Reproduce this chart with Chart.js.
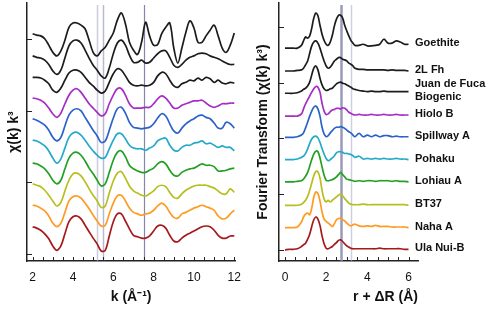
<!DOCTYPE html>
<html>
<head>
<meta charset="utf-8">
<script src="https://cdn.jsdelivr.net/npm/chart.js@4.4.1/dist/chart.umd.min.js"></script>
<style>
  body { margin: 0; background: #fff; }
  #wrap { position: relative; width: 490px; height: 309px; }
  #exafs { position: absolute; left: 0; top: 0; }
  #ft { position: absolute; left: 250px; top: 0; }
</style>
</head>
<body>
<div id="wrap">
  <canvas id="exafs" width="250" height="309"></canvas>
  <canvas id="ft" width="240" height="309"></canvas>
</div>
<script>
// samples, top to bottom
const sampleNames = ['Goethite', '2L Fh', 'Juan de Fuca Biogenic', 'Hiolo B', 'Spillway A',
                     'Pohaku', 'Lohiau A', 'BT37', 'Naha A', 'Ula Nui-B'];
const labelLines = [['Goethite'], ['2L Fh'], ['Juan de Fuca', 'Biogenic'], ['Hiolo B'], ['Spillway A'],
                    ['Pohaku'], ['Lohiau A'], ['BT37'], ['Naha A'], ['Ula Nui-B']];
const sampleColors = ['#1c1c1c', '#1c1c1c', '#1c1c1c', '#a52cc4', '#2b62c9',
                      '#25a9c9', '#23a023', '#b7bf1f', '#ff9b22', '#a5191c'];

// k space (Å-1)
const kValues = [2.0,2.2,2.4,2.6,2.8,3.0,3.2,3.4,3.6,3.8,4.0,4.2,4.4,4.6,4.8,5.0,5.2,5.4,5.6,5.8,
                 6.0,6.2,6.4,6.6,6.8,7.0,7.2,7.4,7.6,7.8,8.0,8.2,8.4,8.6,8.8,9.0,9.2,9.4,9.6,9.8,
                 10.0,10.2,10.4,10.6,10.8,11.0,11.2,11.4,11.6,11.8,12.0];
const kTicks = [2, 4, 6, 8, 10, 12];
const kMarkers = [5.2, 5.5, 7.5];
const chiOffsets = [31, 28, 25, 22, 19, 16, 13, 10, 7, 4];
const chiTicks = [1, 11, 21, 31];

const chiGoethite = [0.8,0.6,0.5,0.1,-0.8,-1.8,-2.3,-1.6,-0.1,1.7,2.3,2.3,2.0,1.5,-0.1,-1.8,-2.3,-1.6,-1.1,-0.1,
                     0.9,2.7,3.7,2.2,-0.4,-1.5,-2.1,-0.4,2.4,0.5,-0.8,-0.7,0.8,1.7,2.3,-1.2,-3.3,-1.2,1.0,2.6,
                     1.6,-0.4,-0.4,0.5,1.3,2.0,0.5,-1.2,-1.8,-0.8,0.9];
const chi2LFh = [0.7,0.5,0.4,0.1,-0.5,-1.4,-1.9,-1.3,0.4,2.1,2.8,2.9,2.5,1.5,0.4,-0.6,-1.3,-2.1,-2.4,-1.0,
                 1.0,2.5,2.9,2.2,0.8,-0.2,-0.2,0.1,-0.3,-0.2,0.4,1.0,1.4,1.4,0.5,-0.6,-0.9,-0.5,0.1,0.5,
                 0.7,1.0,1.1,1.0,0.7,0.5,0.3,0.0,-0.3,-0.5,-0.5];
const chiJuan = [0.7,0.7,0.6,0.3,-0.2,-1.1,-1.4,-0.8,0.3,1.3,1.7,1.7,1.4,0.7,0.0,-0.5,-1.1,-1.5,-1.2,0.0,
                 1.2,1.9,1.7,0.9,0.0,-0.4,-0.5,-0.4,-0.5,-0.4,0.0,0.9,1.4,1.2,0.3,-0.5,-0.7,-0.2,0.0,0.3,
                 0.2,0.6,0.3,0.7,0.5,0.0,0.3,-0.1,-0.2,0.0,-0.1];
const chiHiolo = [0.8,0.7,0.5,0.1,-0.6,-1.4,-1.9,-1.3,0.0,1.2,1.9,2.1,1.6,0.8,0.0,-0.6,-1.2,-1.7,-1.4,0.0,
                  1.2,2.1,2.1,1.2,0.0,-0.6,-0.6,-0.6,-0.5,-0.5,0.0,0.7,1.1,0.8,0.1,-0.6,-0.6,-0.2,0.0,0.2,
                  0.4,0.4,0.5,0.1,-0.3,-0.5,-0.3,0.0,0.0,0.1,0.1];
const chiSpillway = [0.9,0.7,0.4,0.0,-0.7,-1.7,-2.2,-1.7,-0.1,1.4,2.1,2.3,2.0,1.1,0.2,-0.7,-1.5,-2.4,-2.2,-0.7,
                     1.0,2.3,2.5,1.7,0.4,-0.3,-0.4,-0.5,-0.4,-0.3,0.2,1.0,1.6,1.3,0.2,-0.8,-1.1,-0.4,0.2,0.6,
                     0.9,1.3,1.4,1.1,0.9,0.3,-0.4,-0.4,0.4,0.2,-0.4];
const chiPohaku = [0.9,0.8,0.5,0.1,-0.6,-1.6,-2.3,-1.7,-0.2,1.3,1.9,2.0,1.6,0.9,0.1,-0.6,-1.2,-1.6,-1.5,-0.3,
                   0.9,1.8,1.8,1.1,0.2,-0.2,-0.3,-0.3,-0.5,-0.2,0.1,0.8,1.1,1.2,0.2,-0.5,-0.6,-0.1,0.2,0.2,
                   0.5,0.6,0.8,0.4,0.5,0.2,-0.1,0.1,-0.1,-0.1,-0.6];
const chiLohiau = [0.7,0.6,0.3,-0.1,-0.8,-1.7,-2.2,-1.7,-0.1,1.4,2.1,2.2,1.8,1.0,0.0,-0.8,-1.7,-2.5,-2.2,-0.6,
                   1.1,2.2,2.4,1.6,0.4,-0.1,-0.4,-0.6,-0.6,-0.3,0.0,0.6,0.9,0.6,-0.3,-1.0,-1.1,-0.6,-0.3,-0.1,
                   0.0,0.3,0.6,0.4,0.4,0.2,-0.4,-0.4,-0.3,-0.1,0.0];
const chiBT37 = [0.8,0.6,0.4,-0.1,-0.8,-1.6,-2.3,-1.8,-0.2,1.3,2.2,2.3,1.9,1.1,0.1,-0.8,-1.6,-2.5,-2.3,-0.5,
                 1.2,2.3,2.5,1.6,0.5,-0.2,-0.5,-0.8,-0.9,-0.6,-0.2,0.4,0.6,0.4,-0.4,-1.1,-1.2,-0.6,-0.1,0.2,
                 0.5,0.6,0.6,0.6,0.4,0.2,-0.2,-0.6,-0.6,0.1,-0.4];
const chiNaha = [0.8,0.7,0.4,0.0,-0.7,-1.7,-2.2,-1.7,-0.2,1.4,2.0,2.1,1.8,1.1,0.3,-0.6,-1.4,-2.1,-2.0,-0.4,
                 1.1,2.1,2.2,1.4,0.4,-0.2,-0.4,-0.6,-0.4,-0.3,0.1,0.7,1.1,0.7,-0.2,-0.9,-1.0,-0.4,-0.2,0.1,
                 0.4,0.6,0.8,0.6,0.4,0.1,-0.7,-1.1,-1.0,-0.4,0.1];
const chiUla = [0.8,0.6,0.3,-0.2,-0.9,-1.9,-2.5,-1.9,-0.2,1.5,2.2,2.3,1.9,1.0,0.1,-0.8,-1.6,-2.6,-2.5,-0.5,
                1.5,2.6,2.6,1.6,0.5,-0.4,-0.6,-0.8,-0.8,-0.5,0.2,0.9,1.0,0.6,-0.4,-1.2,-1.3,-0.8,-0.4,-0.1,
                0.2,0.5,0.8,0.9,0.8,0.3,-0.4,-0.8,-0.8,-0.5,-0.5];

// r space (Å)
const rValues = [0,0.2,0.4,0.6,0.8,0.9,1.0,1.1,1.2,1.3,1.4,1.5,1.6,1.7,1.8,1.9,2.0,2.1,2.2,2.3,2.4,2.5,
                 2.6,2.7,2.8,2.9,3.0,3.1,3.2,3.3,3.4,3.6,3.8,4.0,4.2,4.4,4.6,4.8,5.0,5.2,5.4,5.6,5.8,6.0];
const rTicks = [0, 2, 4, 6];
const rMarkers = [2.72, 3.2];
const ftOffsets = [38, 34, 30, 26, 22, 18, 14, 10, 6, 2];
const ftTicks = [2, 12, 22, 32, 42];

const ftGoethite = [0.2,0.2,0.2,0.2,0.7,1.5,2.2,2.0,2.4,3.8,5.6,6.5,6.0,4.3,2.7,1.6,0.9,0.7,1.3,2.5,4.2,5.4,
                    6.1,6.1,5.6,4.3,3.3,2.4,1.6,1.1,0.7,0.7,0.9,0.6,0.6,0.7,0.9,1.8,1.1,1.1,1.5,1.3,0.9,0.9];
const ft2LFh = [0.1,0.1,0.1,0.2,0.3,0.6,1.2,1.9,3.3,4.6,5.3,5.5,5.1,4.2,3.0,1.9,1.0,0.6,0.8,1.3,1.9,2.2,
                2.5,2.5,2.2,2.1,1.9,1.5,1.3,1.0,0.6,0.4,0.4,0.3,0.3,0.3,0.3,0.3,0.2,0.3,0.2,0.2,0.2,0.1];
const ftJuan = [0.1,0.1,0.1,0.2,0.5,0.8,1.0,1.4,2.1,3.4,4.6,5.0,4.3,2.8,1.6,0.9,0.6,0.7,0.9,1.0,1.4,1.8,
                2.0,2.1,1.9,1.8,1.6,1.4,1.2,0.9,0.8,0.6,0.5,0.4,0.5,0.4,0.4,0.5,0.4,0.4,0.4,0.4,0.4,0.4];
const ftHiolo = [0.0,0.0,0.0,0.0,0.4,1.3,2.2,2.9,3.6,4.3,4.9,5.3,5.2,4.3,2.3,0.9,0.3,0.4,0.8,1.1,1.2,1.4,
                 1.4,1.3,1.5,1.4,1.1,0.7,0.5,0.3,0.2,0.3,0.2,0.2,0.3,0.2,0.2,0.3,0.2,0.2,0.3,0.2,0.2,0.2];
const ftSpillway = [0.2,0.2,0.2,0.3,0.6,1.0,1.9,2.9,4.0,4.9,5.6,5.8,5.3,4.0,2.0,0.8,0.3,0.5,1.0,1.4,1.8,2.0,
                    2.0,2.1,2.0,1.8,1.5,1.2,1.0,0.6,0.3,0.9,0.3,0.6,0.3,0.6,0.3,0.5,0.5,0.3,0.4,0.3,0.3,0.3];
const ftPohaku = [0.2,0.2,0.2,0.3,0.6,0.8,1.3,2.1,3.1,3.9,4.3,4.4,4.1,3.3,2.2,1.2,0.4,0.0,0.2,0.5,0.9,1.4,
                  1.6,1.6,1.5,1.3,1.3,1.2,1.1,0.9,0.6,0.8,0.3,0.4,0.3,0.4,0.3,0.4,0.3,0.3,0.4,0.3,0.3,0.2];
const ftLohiau = [0.2,0.2,0.2,0.3,0.4,0.7,1.2,1.9,3.0,4.2,5.2,5.7,5.6,4.5,2.9,1.4,0.5,0.4,0.5,0.6,0.8,1.1,
                  1.5,1.9,1.5,1.1,0.7,0.6,0.5,0.4,0.3,0.4,0.3,0.4,0.4,0.3,0.4,0.4,0.4,0.3,0.4,0.3,0.3,0.2];
const ftBT37 = [0.0,0.0,0.0,0.0,0.2,0.5,0.9,1.6,2.7,4.0,5.3,6.1,6.0,4.9,2.7,1.1,0.6,0.9,0.6,0.9,1.2,1.5,
                1.8,2.0,1.7,1.2,0.8,0.4,0.2,0.1,0.1,0.1,0.2,0.1,0.1,0.1,0.1,0.1,0.1,0.1,0.1,0.1,0.1,0.0];
const ftNaha = [0.0,0.0,0.0,0.1,1.0,1.9,2.4,2.6,2.3,3.5,5.5,6.4,6.1,4.8,2.8,1.5,1.1,0.8,0.5,0.2,0.7,1.4,
                1.6,1.7,1.4,1.2,0.8,0.5,0.3,0.5,0.6,0.3,0.2,0.3,0.2,0.4,0.2,0.2,0.2,0.1,0.1,0.1,0.1,0.0];
const ftUla = [0.0,0.1,0.1,0.2,0.6,0.9,1.2,1.9,2.8,4.2,5.4,5.9,5.5,4.4,2.5,1.1,0.3,0.2,0.4,0.6,1.0,1.3,
               1.7,1.8,1.5,1.1,0.7,0.5,0.3,0.2,0.2,0.2,0.2,0.2,0.2,0.2,0.3,0.2,0.2,0.2,0.2,0.2,0.1,0.1];

const chiSeries = [chiGoethite, chi2LFh, chiJuan, chiHiolo, chiSpillway, chiPohaku, chiLohiau, chiBT37, chiNaha, chiUla];
const ftSeries = [ftGoethite, ft2LFh, ftJuan, ftHiolo, ftSpillway, ftPohaku, ftLohiau, ftBT37, ftNaha, ftUla];

const FONT = '"Liberation Sans", Arial, Helvetica, sans-serif';

function stack(xs, ys, off) {
    return ys.map(function(v, i) {
        return {x: xs[i], y: v + off};
    });
}

// thin vertical guide lines behind the spectra
const markerLines = {
    id: 'markerLines',
    beforeDatasetsDraw(chart, args, opts) {
        const {ctx, chartArea, scales} = chart;
        ctx.save();
        opts.lines.forEach(function(l) {
            const px = Math.round(scales.x.getPixelForValue(l.value)) + 0.5;
            ctx.strokeStyle = l.color;
            ctx.lineWidth = l.width;
            ctx.beginPath();
            ctx.moveTo(px, chartArea.top + 2);
            ctx.lineTo(px, chartArea.bottom);
            ctx.stroke();
        });
        ctx.restore();
    }
};

// tick marks pointing into the plot
const inwardTicks = {
    id: 'inwardTicks',
    afterDraw(chart, args, opts) {
        const {ctx, chartArea: a, scales: {x, y}} = chart;
        ctx.save();
        ctx.strokeStyle = '#222';
        ctx.lineWidth = 1;
        ctx.beginPath();
        const first = Math.ceil(x.min / opts.xStep) * opts.xStep;
        for (let v = first; v <= x.max + 1e-9; v += opts.xStep) {
            const px = Math.round(x.getPixelForValue(v)) + 0.5;
            ctx.moveTo(px, a.bottom);
            ctx.lineTo(px, a.bottom - opts.xLen);
        }
        y.ticks.forEach(function(t) {
            const py = Math.round(y.getPixelForValue(t.value)) + 0.5;
            ctx.moveTo(a.left, py);
            ctx.lineTo(a.left + opts.yLen, py);
        });
        ctx.stroke();
        ctx.restore();
    }
};

// sample names at the tail of each transform
const sampleLabels = {
    id: 'sampleLabels',
    afterDatasetsDraw(chart, args, opts) {
        const {ctx, chartArea} = chart;
        ctx.save();
        ctx.font = 'bold 11px ' + FONT;
        ctx.fillStyle = '#111';
        ctx.textBaseline = 'middle';
        chart.data.datasets.forEach(function(ds, i) {
            const last = ds.data[ds.data.length - 1];
            const y = chart.scales.y.getPixelForValue(last.y) - 1;
            const lines = opts.names[i];
            lines.forEach(function(t, j) {
                ctx.fillText(t, chartArea.right - 3, y + (j - (lines.length - 1) / 2) * 13);
            });
        });
        ctx.restore();
    }
};

function spectra(xs, series, offsets) {
    return series.map(function(s, i) {
        return {
            label: sampleNames[i],
            data: stack(xs, s, offsets[i]),
            borderColor: sampleColors[i],
            borderWidth: 1.7,
            borderJoinStyle: 'round',
            pointRadius: 0,
            tension: 0.35,
            fill: false
        };
    });
}

const chiChart = new Chart(document.getElementById('exafs'), {
    type: 'line',
    data: {datasets: spectra(kValues, chiSeries, chiOffsets)},
    options: {
        responsive: false,
        animation: false,
        layout: {padding: {top: 3, right: 7, left: 0, bottom: 0}},
        plugins: {
            legend: {display: false},
            tooltip: {enabled: false},
            markerLines: {
                lines: [
                    {value: kMarkers[0], color: 'rgba(170,170,205,0.6)', width: 1.5},
                    {value: kMarkers[1], color: 'rgba(160,160,200,0.75)', width: 1.5},
                    {value: kMarkers[2], color: 'rgba(120,120,165,0.9)', width: 1.2}
                ]
            },
            inwardTicks: {xStep: 0.5, xLen: 4, yLen: 5}
        },
        scales: {
            x: {
                type: 'linear',
                min: 1.72,
                max: 12.05,
                afterBuildTicks: function(s) { s.ticks = kTicks.map(function(v) { return {value: v}; }); },
                afterFit: function(s) { s.height = 48; },
                grid: {display: false, drawTicks: false},
                border: {color: '#222', width: 1.5},
                ticks: {padding: 9, color: '#111', font: {family: FONT, size: 12}},
                title: {
                    display: true,
                    text: 'k (Å⁻¹)',
                    color: '#111',
                    font: {family: FONT, size: 14, weight: 'bold'},
                    padding: {top: 0, bottom: 3}
                }
            },
            y: {
                type: 'linear',
                min: 0,
                max: 36.1,
                afterBuildTicks: function(s) { s.ticks = chiTicks.map(function(v) { return {value: v}; }); },
                afterFit: function(s) { s.width = 27; },
                grid: {display: false, drawTicks: false},
                border: {color: '#222', width: 1.5},
                ticks: {display: false},
                title: {
                    display: true,
                    text: 'χ(k) k³',
                    color: '#111',
                    font: {family: FONT, size: 14, weight: 'bold'},
                    padding: {top: 6, bottom: 0}
                }
            }
        }
    },
    plugins: [markerLines, inwardTicks]
});

const ftChart = new Chart(document.getElementById('ft'), {
    type: 'line',
    data: {datasets: spectra(rValues, ftSeries, ftOffsets)},
    options: {
        responsive: false,
        animation: false,
        layout: {padding: {top: 3, right: 72, left: 0, bottom: 0}},
        plugins: {
            legend: {display: false},
            tooltip: {enabled: false},
            markerLines: {
                lines: [
                    {value: rMarkers[0], color: 'rgba(135,135,175,0.85)', width: 2.5},
                    {value: rMarkers[1], color: 'rgba(175,175,210,0.6)', width: 1.5}
                ]
            },
            inwardTicks: {xStep: 0.5, xLen: 4, yLen: 5},
            sampleLabels: {names: labelLines}
        },
        scales: {
            x: {
                type: 'linear',
                min: -0.29,
                max: 6.46,
                afterBuildTicks: function(s) { s.ticks = rTicks.map(function(v) { return {value: v}; }); },
                afterFit: function(s) { s.height = 48; },
                grid: {display: false, drawTicks: false},
                border: {color: '#222', width: 1.5},
                ticks: {padding: 9, color: '#111', font: {family: FONT, size: 12}},
                title: {
                    display: true,
                    text: 'r + ΔR (Å)',
                    align: 'end',
                    color: '#111',
                    font: {family: FONT, size: 14, weight: 'bold'},
                    padding: {top: 0, bottom: 3}
                }
            },
            y: {
                type: 'linear',
                min: 0,
                max: 46.3,
                afterBuildTicks: function(s) { s.ticks = ftTicks.map(function(v) { return {value: v}; }); },
                afterFit: function(s) { s.width = 29; },
                grid: {display: false, drawTicks: false},
                border: {color: '#222', width: 1.5},
                ticks: {display: false},
                title: {
                    display: true,
                    text: 'Fourier Transform (χ(k) k³)',
                    color: '#111',
                    font: {family: FONT, size: 14, weight: 'bold'},
                    padding: {top: 5, bottom: 0}
                }
            }
        }
    },
    plugins: [markerLines, inwardTicks, sampleLabels]
});
</script>
</body>
</html>
